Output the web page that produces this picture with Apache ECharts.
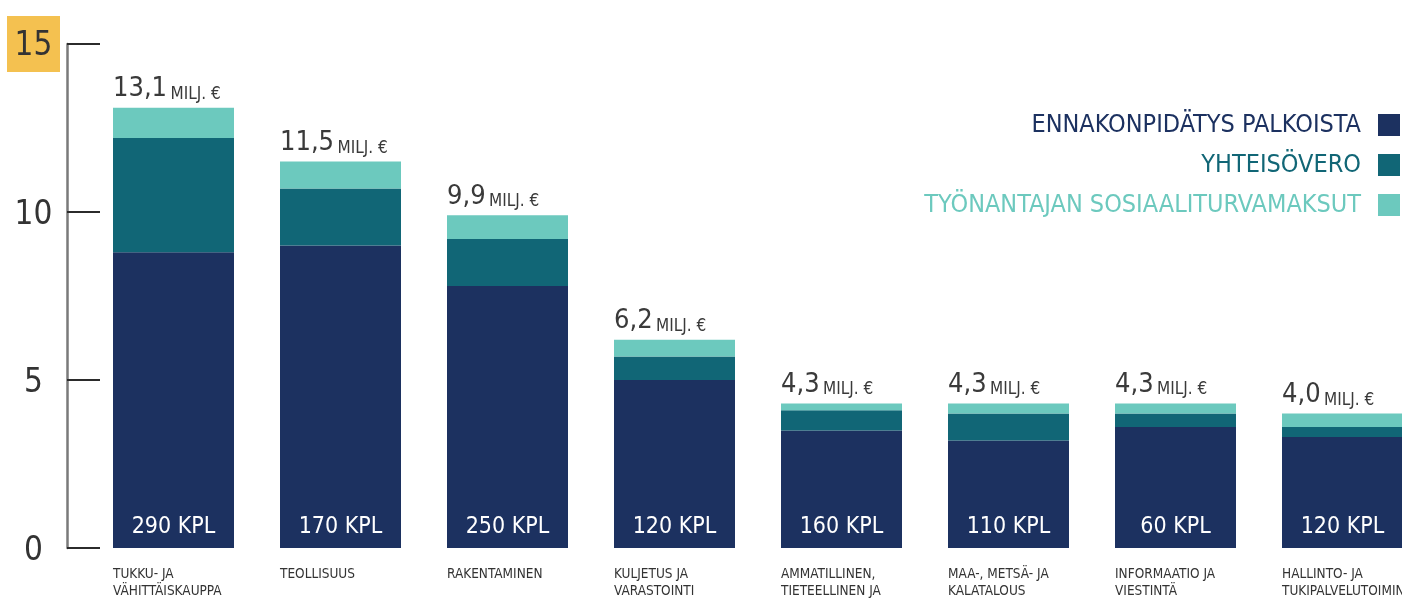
<!DOCTYPE html>
<html>
<head>
<meta charset="utf-8">
<script src="https://cdn.jsdelivr.net/npm/echarts@6/dist/echarts.min.js"></script>
<style>
  html, body { margin: 0; padding: 0; background: #fff; }
  #chart { width: 1402px; height: 600px; }
</style>
</head>
<body>
<div id="chart"></div>
<script>
// toimialat
const categories = [
  'TUKKU- JA\nVÄHITTÄISKAUPPA',
  'TEOLLISUUS',
  'RAKENTAMINEN',
  'KULJETUS JA\nVARASTOINTI',
  'AMMATILLINEN,\nTIETEELLINEN JA\nTEKNINEN TOIMINTA',
  'MAA-, METSÄ- JA\nKALATALOUS',
  'INFORMAATIO JA\nVIESTINTÄ',
  'HALLINTO- JA\nTUKIPALVELUTOIMINTA'
];
// milj. euroa
const ennakonpidatys = [8.8, 9.0, 7.8, 5.0, 3.5, 3.2, 3.6, 3.3];
const yhteisovero = [3.4, 1.7, 1.4, 0.7, 0.6, 0.8, 0.4, 0.3];
const sosiaaliturva = [0.9, 0.8, 0.7, 0.5, 0.2, 0.3, 0.3, 0.4];
const totals = ['13,1', '11,5', '9,9', '6,2', '4,3', '4,3', '4,3', '4,0'];
const yritykset = [290, 170, 250, 120, 160, 110, 60, 120];
const yTicks = [0, 5, 10, 15];

const FONT = '"Liberation Sans Narrow", "DejaVu Sans Condensed", sans-serif';
const C_DARK = '#1c3160';
const C_TEAL = '#116676';
const C_LIGHT = '#6cc9be';

const chart = echarts.init(document.getElementById('chart'));

const option = {
  animation: false,
  textStyle: { fontFamily: FONT },
  grid: { left: 90, right: -24, top: 44, bottom: 52, outerBoundsMode: 'none' },
  legend: {
    orient: 'vertical',
    right: 2,
    top: 111,
    padding: 0,
    align: 'right',
    itemWidth: 22,
    itemHeight: 22,
    itemGap: 12,
    icon: 'rect',
    textStyle: { fontFamily: FONT, fontSize: 25, lineHeight: 28, padding: [0, 12, 0, 0] },
    data: [
      { name: 'ENNAKONPIDÄTYS PALKOISTA', textStyle: { color: C_DARK } },
      { name: 'YHTEISÖVERO', textStyle: { color: C_TEAL } },
      { name: 'TYÖNANTAJAN SOSIAALITURVAMAKSUT', textStyle: { color: C_LIGHT } }
    ]
  },
  xAxis: {
    type: 'category',
    data: categories,
    axisLine: { show: false },
    axisTick: { show: false },
    axisLabel: {
      interval: 0,
      margin: 18,
      formatter: function (v) {
        return v.split('\n').map(function (s) { return '{c|' + s + '}'; }).join('\n');
      },
      rich: {
        c: { width: 121, align: 'left', fontFamily: FONT, fontSize: 13.5, lineHeight: 17, color: '#333' }
      }
    }
  },
  yAxis: {
    type: 'value',
    min: 0,
    max: 15,
    interval: 5,
    offset: 23,
    splitLine: { show: false },
    axisLine: { show: true, lineStyle: { color: '#7a7a7a', width: 2.5 } },
    axisTick: { show: true, inside: true, length: 33, lineStyle: { color: '#2b2b2b', width: 2 } },
    axisLabel: {
      margin: 7,
      formatter: function (v) {
        return yTicks.indexOf(v) < 0 ? '' : (v === 15 ? '{hl|' + v + '}' : '{n|' + v + '}');
      },
      rich: {
        n: { width: 53, align: 'center', fontFamily: FONT, fontSize: 33, color: '#333', padding: [6, 0, 0, 0] },
        hl: { width: 53, height: 52, align: 'center', backgroundColor: '#f4c150', fontFamily: FONT, fontSize: 33, color: '#333', padding: [4, 0, 0, 0] }
      }
    }
  },
  series: [
    {
      name: 'ENNAKONPIDÄTYS PALKOISTA',
      type: 'bar',
      stack: 'vero',
      barWidth: 121,
      itemStyle: { color: C_DARK },
      label: {
        show: true,
        position: 'insideBottom',
        distance: 8,
        fontFamily: FONT,
        fontSize: 23,
        lineHeight: 26,
        color: '#fff',
        formatter: function (p) { return yritykset[p.dataIndex] + ' KPL'; }
      },
      data: ennakonpidatys
    },
    {
      name: 'YHTEISÖVERO',
      type: 'bar',
      stack: 'vero',
      itemStyle: { color: C_TEAL },
      data: yhteisovero
    },
    {
      name: 'TYÖNANTAJAN SOSIAALITURVAMAKSUT',
      type: 'bar',
      stack: 'vero',
      itemStyle: { color: C_LIGHT },
      label: {
        show: true,
        position: [0, -5],
        align: 'left',
        verticalAlign: 'bottom',
        formatter: function (p) { return '{big|' + totals[p.dataIndex] + '} {small|MILJ. €}'; },
        rich: {
          big: { fontFamily: FONT, fontSize: 27, color: '#3a3a3a', verticalAlign: 'bottom', lineHeight: 30 },
          small: { fontFamily: FONT, fontSize: 17, color: '#3a3a3a', verticalAlign: 'bottom', lineHeight: 25 }
        }
      },
      data: sosiaaliturva
    }
  ]
};

chart.setOption(option);
</script>
</body>
</html>
